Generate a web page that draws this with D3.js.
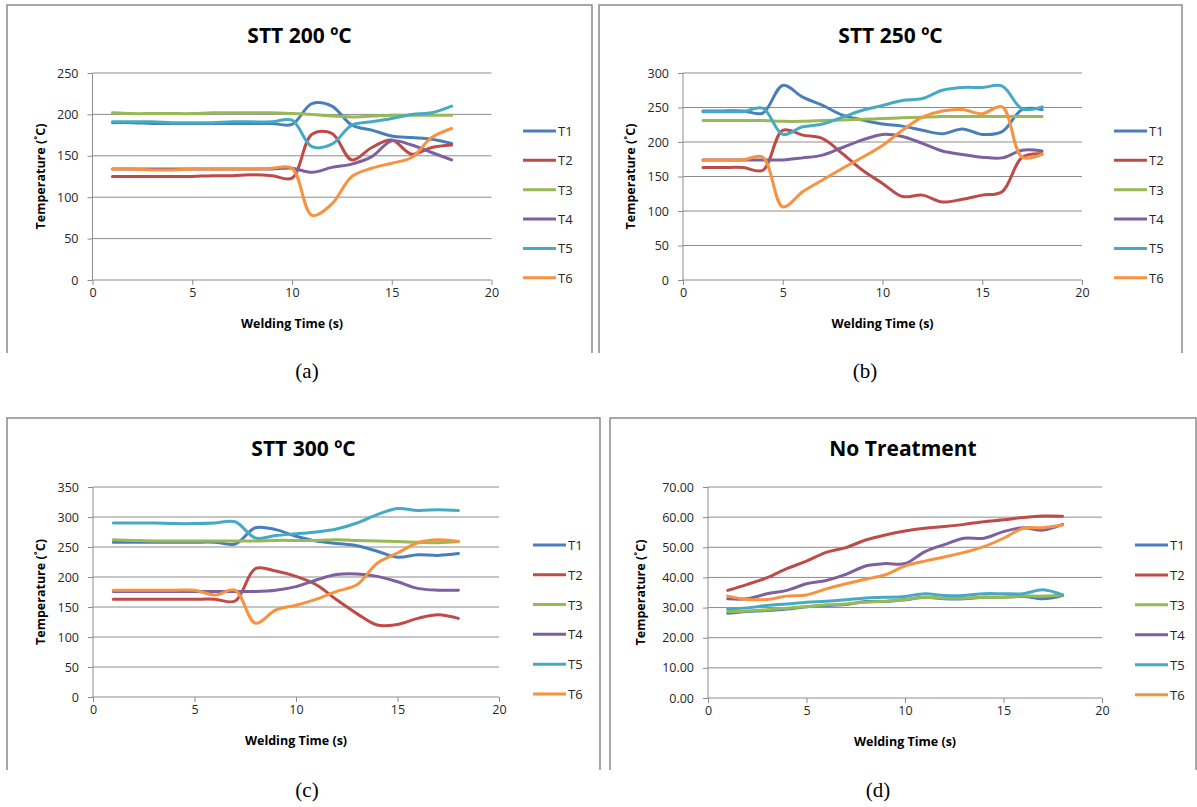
<!DOCTYPE html>
<html>
<head>
<meta charset="utf-8">
<script src="https://cdn.jsdelivr.net/npm/d3@7"></script>
<style>
  body { margin: 0; background: #fff; }
  text { font-family: "Open Sans", "Noto Sans", sans-serif; }
</style>
</head>
<body>
<div class="chart"></div>
<script>
// welding time (s)
var time = [1, 2, 3, 4, 5, 6, 7, 8, 9, 10, 11, 12, 13, 14, 15, 16, 17, 18];
var seriesNames = ["T1", "T2", "T3", "T4", "T5", "T6"];
var colors = ["#4A7EBB", "#BE4B48", "#98B954", "#7D60A0", "#46AAC5", "#F69240"];

// STT 200
var s200_t1 = [190, 190, 189, 189, 189, 189, 189, 189, 189, 188, 213, 210, 187, 181, 174, 172, 170, 165];
var s200_t2 = [125, 125, 125, 125, 125, 126, 126, 127, 126, 123, 176, 177, 145, 160, 169, 152, 160, 163];
var s200_t3 = [202, 201, 201, 201, 201, 202, 202, 202, 202, 201, 200, 198, 197, 198, 199, 199, 199, 199];
var s200_t4 = [134, 134, 134, 134, 134, 134, 134, 134, 134, 135, 130, 136, 140, 149, 168, 163, 154, 145];
var s200_t5 = [191, 191, 191, 190, 190, 190, 191, 191, 191, 193, 161, 164, 187, 191, 195, 200, 202, 210];
var s200_t6 = [134, 134, 133, 133, 134, 134, 134, 134, 135, 135, 78, 92, 125, 135, 141, 148, 172, 183];

// STT 250
var s250_t1 = [245, 245, 245, 242, 282, 265, 253, 239, 232, 226, 223, 217, 212, 219, 211, 215, 247, 247];
var s250_t2 = [163, 163, 163, 159, 217, 210, 205, 183, 159, 140, 121, 123, 113, 117, 123, 128, 178, 183];
var s250_t3 = [231, 231, 231, 231, 230, 230, 231, 232, 233, 234, 235, 236, 237, 237, 237, 237, 237, 237];
var s250_t4 = [174, 174, 174, 174, 174, 177, 181, 192, 203, 211, 208, 198, 187, 182, 178, 177, 188, 187];
var s250_t5 = [244, 244, 244, 249, 211, 222, 226, 236, 246, 253, 260, 263, 275, 279, 279, 281, 248, 251];
var s250_t6 = [174, 174, 174, 178, 106, 128, 145, 162, 178, 195, 217, 236, 245, 247, 241, 251, 178, 182];

// STT 300
var s300_t1 = [258, 258, 258, 258, 258, 258, 255, 282, 279, 268, 260, 256, 252, 243, 233, 237, 236, 239];
var s300_t2 = [163, 163, 163, 163, 163, 163, 160, 214, 210, 201, 187, 162, 139, 120, 121, 131, 137, 131];
var s300_t3 = [262, 261, 260, 260, 260, 260, 260, 260, 261, 261, 261, 262, 261, 260, 259, 258, 257, 259];
var s300_t4 = [176, 176, 176, 176, 176, 176, 176, 176, 178, 184, 195, 204, 205, 201, 192, 181, 178, 178];
var s300_t5 = [290, 290, 290, 289, 289, 290, 292, 265, 269, 272, 275, 280, 290, 304, 314, 311, 312, 311];
var s300_t6 = [178, 178, 178, 178, 178, 170, 178, 123, 145, 153, 163, 176, 187, 223, 240, 257, 262, 259];

// no treatment
var nt_t1 = [28.1, 28.7, 29.0, 29.5, 30.3, 30.7, 31.0, 32.0, 32.0, 32.6, 33.4, 32.9, 32.9, 33.4, 33.4, 33.7, 32.9, 34.0];
var nt_t2 = [35.7, 37.7, 39.9, 42.9, 45.4, 48.3, 49.9, 52.4, 54.1, 55.4, 56.3, 56.9, 57.6, 58.5, 59.1, 59.9, 60.4, 60.3];
var nt_t3 = [28.7, 28.9, 29.3, 29.8, 30.3, 30.9, 31.2, 31.8, 32.1, 32.7, 33.4, 33.1, 33.1, 33.4, 33.4, 33.8, 33.8, 34.2];
var nt_t4 = [32.9, 32.9, 34.6, 35.7, 37.9, 39.0, 41.0, 43.8, 44.6, 44.6, 48.5, 50.9, 53.0, 53.0, 55.2, 56.5, 55.7, 57.6];
var nt_t5 = [29.5, 29.9, 30.7, 31.2, 31.8, 32.1, 32.6, 33.2, 33.4, 33.7, 34.6, 34.0, 34.0, 34.6, 34.6, 34.6, 35.9, 34.2];
var nt_t6 = [33.8, 32.7, 32.7, 33.8, 34.2, 36.2, 37.9, 39.4, 40.9, 43.8, 45.4, 46.8, 48.3, 50.2, 53.0, 56.3, 56.5, 57.4];

var xTicks = [0, 5, 10, 15, 20];

var svg = d3.select(".chart")
  .append("svg")
    .attr("width", 1197)
    .attr("height", 807);

var panels = [
  { title: "STT 200 ºC", caption: "(a)", data: [s200_t1, s200_t2, s200_t3, s200_t4, s200_t5, s200_t6],
    yMax: 250, yStep: 50, fmt: d3.format("d"),
    frame: [7, 5, 592, 353], px: [92.5, 491.5], py: [73, 280], legX: 523, capX: 307, capY: 378, yTitleX: 40 },
  { title: "STT 250 ºC", caption: "(b)", data: [s250_t1, s250_t2, s250_t3, s250_t4, s250_t5, s250_t6],
    yMax: 300, yStep: 50, fmt: d3.format("d"),
    frame: [599, 5, 1182, 353], px: [683, 1082], py: [73, 280], legX: 1114, capX: 865, capY: 378, yTitleX: 630 },
  { title: "STT 300 ºC", caption: "(c)", data: [s300_t1, s300_t2, s300_t3, s300_t4, s300_t5, s300_t6],
    yMax: 350, yStep: 50, fmt: d3.format("d"),
    frame: [7, 418, 600, 770], px: [93, 499], py: [487, 697], legX: 533, capX: 307, capY: 797, yTitleX: 40 },
  { title: "No Treatment", caption: "(d)", data: [nt_t1, nt_t2, nt_t3, nt_t4, nt_t5, nt_t6],
    yMax: 70, yStep: 10, fmt: d3.format(".2f"),
    frame: [610, 418, 1196, 770], px: [708, 1102], py: [487, 698], legX: 1135, capX: 878, capY: 797, yTitleX: 640 }
];

panels.forEach(drawPanel);

function drawPanel(p) {
  var g = svg.append("g");
  var f = p.frame;

  // frame (bottom edge is cropped in the original)
  g.append("path")
    .attr("d", "M" + f[0] + "," + f[3] + "V" + f[1] + "H" + f[2] + "V" + f[3])
    .attr("fill", "none")
    .attr("stroke", "#8a8a8a")
    .attr("stroke-width", 1.5);

  var x = d3.scaleLinear().domain([0, 20]).range(p.px);
  var y = d3.scaleLinear().domain([0, p.yMax]).range([p.py[1], p.py[0]]);
  var yTicks = d3.range(0, p.yMax + 0.001, p.yStep);

  // gridlines
  g.append("g")
    .selectAll("line")
    .data(yTicks.filter(function(d) { return d > 0; }))
    .enter().append("line")
      .attr("x1", p.px[0])
      .attr("x2", p.px[1])
      .attr("y1", function(d) { return y(d); })
      .attr("y2", function(d) { return y(d); })
      .attr("stroke", "#8c8c8c")
      .attr("stroke-width", 1);

  var yaxis = d3.axisLeft(y).tickValues(yTicks).tickSize(5).tickPadding(9).tickFormat(p.fmt);
  var xaxis = d3.axisBottom(x).tickValues(xTicks).tickSize(5).tickPadding(3);

  var ya = g.append("g")
    .attr("transform", "translate(" + p.px[0] + ",0)")
    .call(yaxis);
  var xa = g.append("g")
    .attr("transform", "translate(0," + p.py[1] + ")")
    .call(xaxis);

  [ya, xa].forEach(function(a) {
    a.selectAll("path, line").attr("stroke", "#8c8c8c");
    a.selectAll("text")
      .style("font-size", "12.5px")
      .attr("fill", "#262626");
    a.select(".domain").attr("stroke-width", 1);
  });
  ya.select(".domain").attr("d", "M0," + p.py[1] + "V" + p.py[0]);
  xa.select(".domain").attr("d", "M" + p.px[0] + ",0H" + p.px[1]);

  // lines
  var line = d3.line()
    .x(function(d, i) { return x(time[i]); })
    .y(function(d) { return y(d); })
    .curve(d3.curveCatmullRom.alpha(0.5));

  g.append("g")
    .selectAll("path")
    .data(p.data)
    .enter().append("path")
      .attr("d", line)
      .attr("fill", "none")
      .attr("stroke", function(d, i) { return colors[i]; })
      .attr("stroke-width", 3)
      .attr("stroke-linejoin", "round")
      .attr("stroke-linecap", "round");

  // title
  g.append("text")
    .attr("x", (f[0] + f[2]) / 2)
    .attr("y", f[1] + 38)
    .attr("text-anchor", "middle")
    .style("font-size", "21px")
    .style("font-weight", "bold")
    .text(p.title);

  // axis titles
  g.append("text")
    .attr("x", (p.px[0] + p.px[1]) / 2)
    .attr("y", p.py[1] + 48)
    .attr("text-anchor", "middle")
    .style("font-size", "12.5px")
    .style("font-weight", "bold")
    .text("Welding Time (s)");

  g.append("text")
    .attr("transform", "translate(" + p.yTitleX + "," + ((p.py[0] + p.py[1]) / 2) + ") rotate(-90)")
    .attr("text-anchor", "middle")
    .attr("dominant-baseline", "central")
    .style("font-size", "12.5px")
    .style("font-weight", "bold")
    .text("Temperature (˚C)");

  // legend
  var step = (p.py[1] - p.py[0]) / 7.05;
  var leg = g.append("g")
    .selectAll("g")
    .data(seriesNames)
    .enter().append("g")
      .attr("transform", function(d, i) {
        return "translate(" + p.legX + "," + (p.py[0] + 58 + i * step) + ")";
      });
  leg.append("line")
    .attr("x1", 0).attr("x2", 33)
    .attr("stroke", function(d, i) { return colors[i]; })
    .attr("stroke-width", 3);
  leg.append("text")
    .attr("x", 35)
    .attr("dominant-baseline", "central")
    .style("font-size", "13px")
    .attr("fill", "#262626")
    .text(function(d) { return d; });

  // caption
  g.append("text")
    .attr("x", p.capX)
    .attr("y", p.capY)
    .attr("text-anchor", "middle")
    .style("font-family", "'Liberation Serif', 'Times New Roman', serif")
    .style("font-size", "21px")
    .text(p.caption);
}
</script>
</body>
</html>
